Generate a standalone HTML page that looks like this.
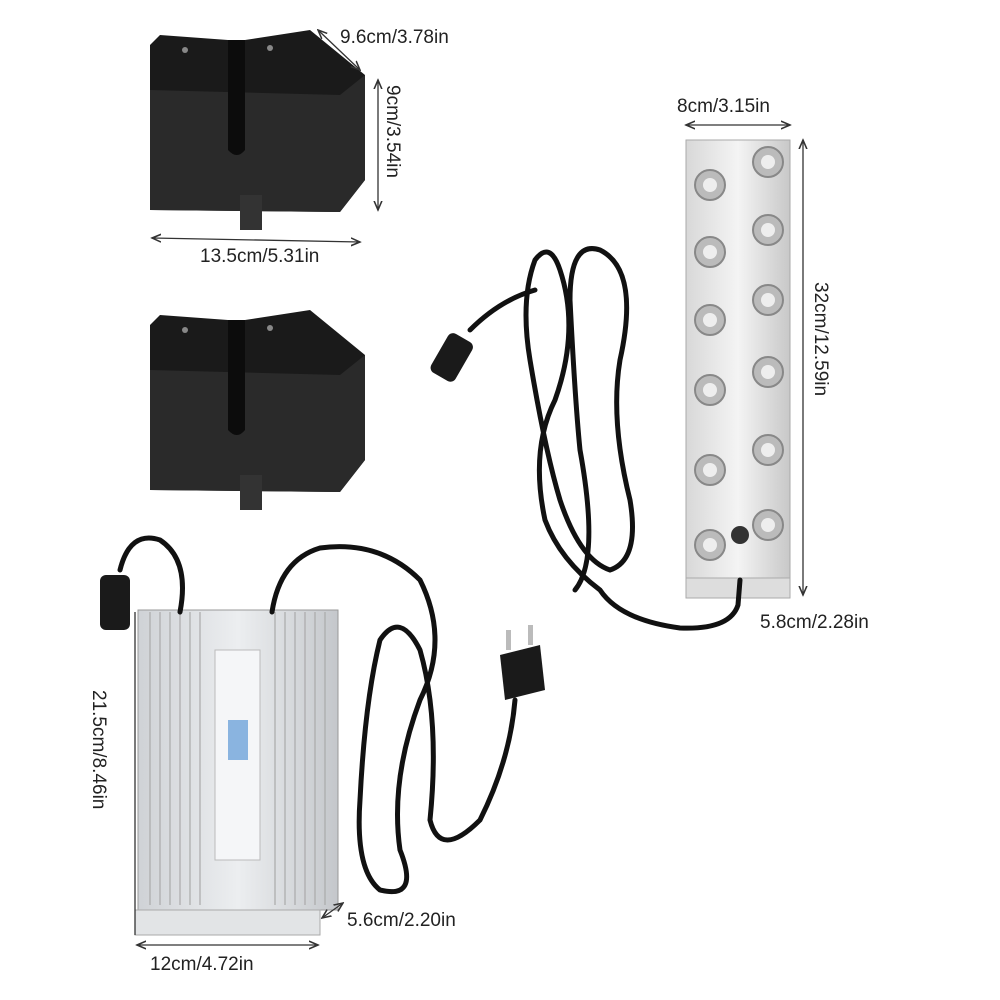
<!DOCTYPE html>
<html><head><meta charset="utf-8"><style>html,body{margin:0;background:#fff}svg{display:block}</style></head><body>
<svg width="1000" height="1000" viewBox="0 0 1000 1000" xmlns="http://www.w3.org/2000/svg" font-family="Liberation Sans, sans-serif" font-size="19" fill="#222">
<defs>
<linearGradient id="steel" x1="0" x2="1"><stop offset="0" stop-color="#d8d8d8"/><stop offset="0.5" stop-color="#f4f4f4"/><stop offset="1" stop-color="#c8c8c8"/></linearGradient>
<linearGradient id="psu" x1="0" x2="1"><stop offset="0" stop-color="#cfd2d6"/><stop offset="0.5" stop-color="#eceef0"/><stop offset="1" stop-color="#c4c7cb"/></linearGradient>
<marker id="a" markerWidth="8" markerHeight="8" refX="7" refY="4" orient="auto-start-reverse"><path d="M0,1 L7,4 L0,7" fill="none" stroke="#333" stroke-width="1.2"/></marker>
</defs>
<!-- float boxes -->
<g id="box">
<path d="M150,45 L150,210 L340,212 L365,180 L365,75 L310,30 L245,40 L245,170 L230,170 L228,40 L160,35 Z" fill="#1a1a1a"/>
<path d="M150,90 L340,95 L365,75 L365,180 L340,212 L150,210 Z" fill="#2a2a2a"/>
<path d="M228,40 L245,40 L245,150 Q237,160 228,150 Z" fill="#0c0c0c"/>
<rect x="240" y="195" width="22" height="35" fill="#333"/>
<circle cx="185" cy="50" r="3" fill="#888"/><circle cx="270" cy="48" r="3" fill="#888"/>
</g>
<use href="#box" transform="translate(0,280)"/>
<!-- float dims -->
<line x1="318" y1="30" x2="360" y2="70" stroke="#333" stroke-width="1.3" marker-start="url(#a)" marker-end="url(#a)"/>
<text x="340" y="43">9.6cm/3.78in</text>
<line x1="378" y1="80" x2="378" y2="210" stroke="#333" stroke-width="1.3" marker-start="url(#a)" marker-end="url(#a)"/>
<text transform="translate(387,85) rotate(90)">9cm/3.54in</text>
<line x1="152" y1="238" x2="360" y2="242" stroke="#333" stroke-width="1.3" marker-start="url(#a)" marker-end="url(#a)"/>
<text x="200" y="262">13.5cm/5.31in</text>
<!-- steel bar -->
<rect x="686" y="140" width="104" height="455" fill="url(#steel)" stroke="#aaa"/>
<rect x="686" y="578" width="104" height="20" fill="#ddd" stroke="#aaa"/>
<g fill="#bbb" stroke="#888" stroke-width="2">
<circle cx="710" cy="185" r="15"/><circle cx="768" cy="162" r="15"/>
<circle cx="710" cy="252" r="15"/><circle cx="768" cy="230" r="15"/>
<circle cx="710" cy="320" r="15"/><circle cx="768" cy="300" r="15"/>
<circle cx="710" cy="390" r="15"/><circle cx="768" cy="372" r="15"/>
<circle cx="710" cy="470" r="15"/><circle cx="768" cy="450" r="15"/>
<circle cx="710" cy="545" r="15"/><circle cx="768" cy="525" r="15"/>
</g>
<g fill="#eee"><circle cx="710" cy="185" r="7"/><circle cx="768" cy="162" r="7"/><circle cx="710" cy="252" r="7"/><circle cx="768" cy="230" r="7"/><circle cx="710" cy="320" r="7"/><circle cx="768" cy="300" r="7"/><circle cx="710" cy="390" r="7"/><circle cx="768" cy="372" r="7"/><circle cx="710" cy="470" r="7"/><circle cx="768" cy="450" r="7"/><circle cx="710" cy="545" r="7"/><circle cx="768" cy="525" r="7"/></g>
<circle cx="740" cy="535" r="9" fill="#333"/>
<line x1="686" y1="125" x2="790" y2="125" stroke="#333" stroke-width="1.3" marker-start="url(#a)" marker-end="url(#a)"/>
<text x="677" y="112">8cm/3.15in</text>
<line x1="803" y1="140" x2="803" y2="595" stroke="#333" stroke-width="1.3" marker-start="url(#a)" marker-end="url(#a)"/>
<text transform="translate(815,282) rotate(90)">32cm/12.59in</text>
<text x="760" y="628">5.8cm/2.28in</text>
<!-- bar cable -->
<g fill="none" stroke="#111" stroke-width="5" stroke-linecap="round">
<path d="M740,580 L738,605 Q730,630 680,628 Q620,620 600,590 Q560,560 545,520 Q530,450 555,400 Q580,330 560,270 Q550,240 535,260 Q520,300 530,360 Q545,450 560,500 Q580,560 610,570 Q640,560 630,500 Q610,420 620,360 Q640,270 600,250 Q570,240 570,300 Q575,400 580,450 Q600,560 575,590"/>
<path d="M535,290 Q500,300 470,330"/>
</g>
<rect x="438" y="335" width="28" height="45" rx="6" fill="#1a1a1a" transform="rotate(30 452 357)"/>
<!-- psu -->
<rect x="138" y="610" width="200" height="300" fill="url(#psu)" stroke="#999"/>
<g stroke="#aaa" stroke-width="1.2">
<line x1="150" y1="612" x2="150" y2="905"/><line x1="160" y1="612" x2="160" y2="905"/><line x1="170" y1="612" x2="170" y2="905"/><line x1="180" y1="612" x2="180" y2="905"/><line x1="190" y1="612" x2="190" y2="905"/><line x1="200" y1="612" x2="200" y2="905"/>
<line x1="275" y1="612" x2="275" y2="905"/><line x1="285" y1="612" x2="285" y2="905"/><line x1="295" y1="612" x2="295" y2="905"/><line x1="305" y1="612" x2="305" y2="905"/><line x1="315" y1="612" x2="315" y2="905"/><line x1="325" y1="612" x2="325" y2="905"/>
</g>
<rect x="215" y="650" width="45" height="210" fill="#f5f6f8" stroke="#bbb"/>
<rect x="228" y="720" width="20" height="40" fill="#8ab4e0"/>
<rect x="135" y="910" width="185" height="25" fill="#e2e4e6" stroke="#aaa"/>
<g fill="none" stroke="#111" stroke-width="5" stroke-linecap="round">
<path d="M180,612 Q190,560 160,540 Q130,530 120,570"/>
<path d="M272,612 Q280,560 320,548 Q380,540 420,580 Q450,640 420,700 Q390,780 400,850 Q420,900 380,890 Q355,870 360,800 Q365,700 380,640 Q400,610 420,650 Q440,720 430,820 Q440,860 480,820 Q510,760 515,700"/>
</g>
<rect x="100" y="575" width="30" height="55" rx="6" fill="#1a1a1a"/>
<path d="M500,655 L540,645 L545,690 L505,700 Z" fill="#1a1a1a"/>
<rect x="506" y="630" width="5" height="20" fill="#bbb"/><rect x="528" y="625" width="5" height="20" fill="#bbb"/>
<line x1="135" y1="612" x2="135" y2="935" stroke="#333" stroke-width="1.3"/>
<text transform="translate(93,690) rotate(90)">21.5cm/8.46in</text>
<line x1="322" y1="918" x2="343" y2="903" stroke="#333" stroke-width="1.3" marker-start="url(#a)" marker-end="url(#a)"/>
<text x="347" y="926">5.6cm/2.20in</text>
<line x1="137" y1="945" x2="318" y2="945" stroke="#333" stroke-width="1.3" marker-start="url(#a)" marker-end="url(#a)"/>
<text x="150" y="970">12cm/4.72in</text>
</svg>
</body></html>
